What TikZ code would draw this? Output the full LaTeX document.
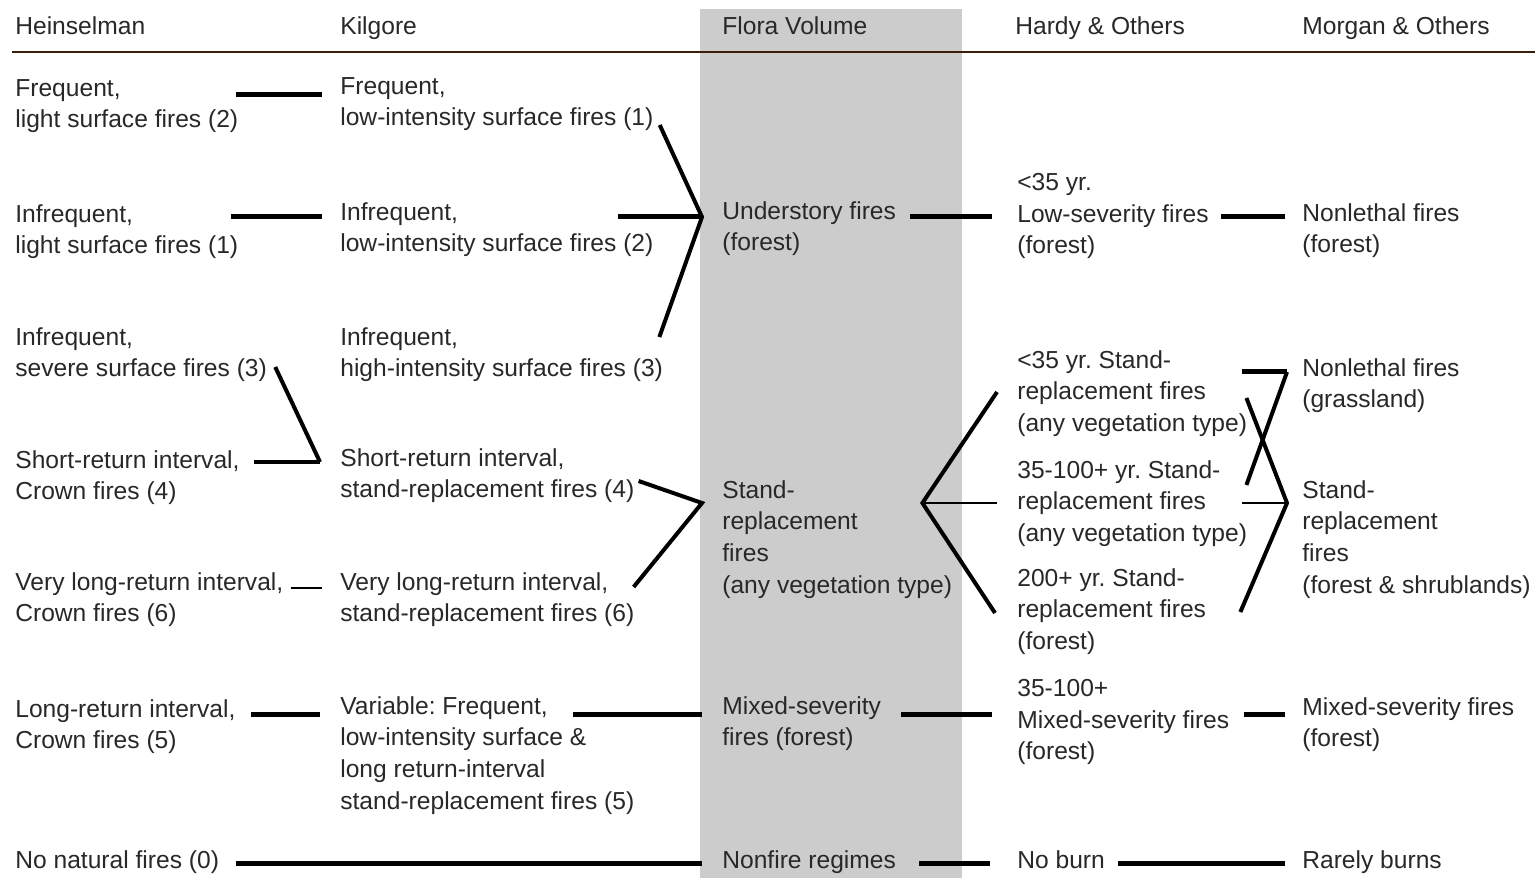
\documentclass[tikz,border=0pt]{standalone}
\usepackage{fontspec}
\setmainfont{Liberation Sans}
\frenchspacing
\usetikzlibrary{calc}
\definecolor{bandgray}{RGB}{204,204,204}
\definecolor{rulebrown}{RGB}{58,30,10}
\definecolor{inkgray}{RGB}{40,40,40}

\begin{document}
\begin{tikzpicture}[
    x=0.02cm, y=-0.02cm,
    txt/.style={anchor=north west, align=left, inner sep=0pt, text=inkgray,
                font=\fontsize{14}{18}\selectfont},
    heavy/.style={line width=0.1cm},
    link/.style={line width=0.08cm},
    thin/.style={line width=0.05cm}
]
\useasboundingbox (0,0) rectangle (1535,878);
\fill[bandgray] (700,9) rectangle (962,878);
\draw[rulebrown, line width=0.05cm] (12,52) -- (1535,52);

% column heads
\node[txt] (hHein)   at (15,16)   {Heinselman};
\node[txt] (hKil)    at (340,16)  {Kilgore};
\node[txt] (hFlora)  at (722,16)  {Flora Volume};
\node[txt] (hHardy)  at (1015,16) {Hardy \& Others};
\node[txt] (hMorgan) at (1302,16) {Morgan \& Others};

% Heinselman
\node[txt] (h1) at (15,79)  {Frequent,\\light surface fires (2)};
\node[txt] (h2) at (15,204) {Infrequent,\\light surface fires (1)};
\node[txt] (h3) at (15,327) {Infrequent,\\severe surface fires (3)};
\node[txt] (h4) at (15,450) {Short-return interval,\\Crown fires (4)};
\node[txt] (h6) at (15,572) {Very long-return interval,\\Crown fires (6)};
\node[txt] (h5) at (15,699) {Long-return interval,\\Crown fires (5)};
\node[txt] (h0) at (15,850) {No natural fires (0)};

% Kilgore
\node[txt] (k1) at (340,77)  {Frequent,\\low-intensity surface fires (1)};
\node[txt] (k2) at (340,202) {Infrequent,\\low-intensity surface fires (2)};
\node[txt] (k3) at (340,327) {Infrequent,\\high-intensity surface fires (3)};
\node[txt] (k4) at (340,448) {Short-return interval,\\stand-replacement fires (4)};
\node[txt] (k6) at (340,572) {Very long-return interval,\\stand-replacement fires (6)};
\node[txt] (k5) at (340,696) {Variable: Frequent,\\low-intensity surface \&\\long return-interval\\stand-replacement fires (5)};

% Flora Volume
\node[txt] (f1) at (722,201) {Understory fires\\(forest)};
\node[txt] (f2) at (722,480) {Stand-\\replacement\\fires\\(any vegetation type)};
\node[txt] (f3) at (722,696) {Mixed-severity\\fires (forest)};
\node[txt] (f0) at (722,850) {Nonfire regimes};

% Hardy & Others
\node[txt] (d1) at (1017,173) {<35 yr.\\Low-severity fires\\(forest)};
\node[txt] (d2) at (1017,350) {<35 yr. Stand-\\replacement fires\\(any vegetation type)};
\node[txt] (d3) at (1017,460) {35-100+ yr. Stand-\\replacement fires\\(any vegetation type)};
\node[txt] (d4) at (1017,568) {200+ yr. Stand-\\replacement fires\\(forest)};
\node[txt] (d5) at (1017,679) {35-100+\\Mixed-severity fires\\(forest)};
\node[txt] (d0) at (1017,850) {No burn};

% Morgan & Others
\node[txt] (m1) at (1302,203) {Nonlethal fires\\(forest)};
\node[txt] (m2) at (1302,358) {Nonlethal fires\\(grassland)};
\node[txt] (m3) at (1302,480) {Stand-\\replacement\\fires\\(forest \& shrublands)};
\node[txt] (m4) at (1302,697) {Mixed-severity fires\\(forest)};
\node[txt] (m0) at (1302,850) {Rarely burns};

% junctions
\coordinate (uf)  at ($(f1.north west)+(-20,16)$);
\coordinate (k4j) at ($(k4.north west)+(-20,14)$);
\coordinate (srj) at ($(f2.north west)+(-20,23)$);
\coordinate (fan) at ($(f2.north east)+(-30,23)$);
\coordinate (ngj) at ($(m2.north west)+(-15,14)$);
\coordinate (msj) at ($(m3.north west)+(-15,23)$);

% understory
\draw[heavy] ($(h1.north east)+(-3,16)$) -- ($(k1.north west)+(-18,18)$);
\draw[heavy] ($(h2.north east)+(-8,13)$) -- ($(k2.north west)+(-18,15)$);
\draw[heavy] ($(k2.north east)+(-36,15)$) -- (uf);
\draw[link] ($(k1.north east)+(6,48)$) -- (uf) -- ($(k3.north east)+(-4,10)$);
\draw[heavy] ($(f1.north east)+(14,16)$) -- ($(d1.north west)+(-25,44)$);
\draw[heavy] ($(d1.north east)+(12,44)$) -- ($(m1.north west)+(-17,14)$);

% stand-replacement
\draw[link] ($(h3.north east)+(8,40)$) -- (k4j);
\draw[heavy] ($(h4.north east)+(14,12)$) -- (k4j);
\draw[thin] ($(h6.north east)+(7,16)$) -- ($(k6.north west)+(-18,16)$);
\draw[link] ($(k4.north east)+(4,33)$) -- (srj) -- ($(k6.north east)+(-1,15)$);
\draw[link] ($(d2.north west)+(-20,42)$) -- (fan) -- ($(d4.north west)+(-22,45)$);
\draw[thin] (fan) -- ($(d3.north west)+(-20,43)$);
\draw[heavy] ($(d2.north east)+(-5,22)$) -- (ngj);
\draw[link] (ngj) -- ($(d3.north east)+(-1,25)$);
\draw[link] ($(d2.north east)+(-1,48)$) -- (msj) -- ($(d4.north east)+(34,44)$);
\draw[thin] ($(d3.north east)+(-5,43)$) -- (msj);

% mixed severity
\draw[heavy] ($(h5.north east)+(15,15)$) -- ($(k5.north west)+(-20,18)$);
\draw[heavy] ($(k5.north east)+(-62,18)$) -- ($(f3.north west)+(-20,18)$);
\draw[heavy] ($(f3.north east)+(20,18)$) -- ($(d5.north west)+(-25,35)$);
\draw[heavy] ($(d5.north east)+(14,35)$) -- ($(m4.north west)+(-17,17)$);

% nonfire
\draw[heavy] ($(h0.north east)+(17,13)$) -- ($(f0.north west)+(-20,13)$);
\draw[heavy] ($(f0.north east)+(23,13)$) -- ($(d0.north west)+(-27,13)$);
\draw[heavy] ($(d0.north east)+(13,13)$) -- ($(m0.north west)+(-17,13)$);
\end{tikzpicture}
\end{document}
